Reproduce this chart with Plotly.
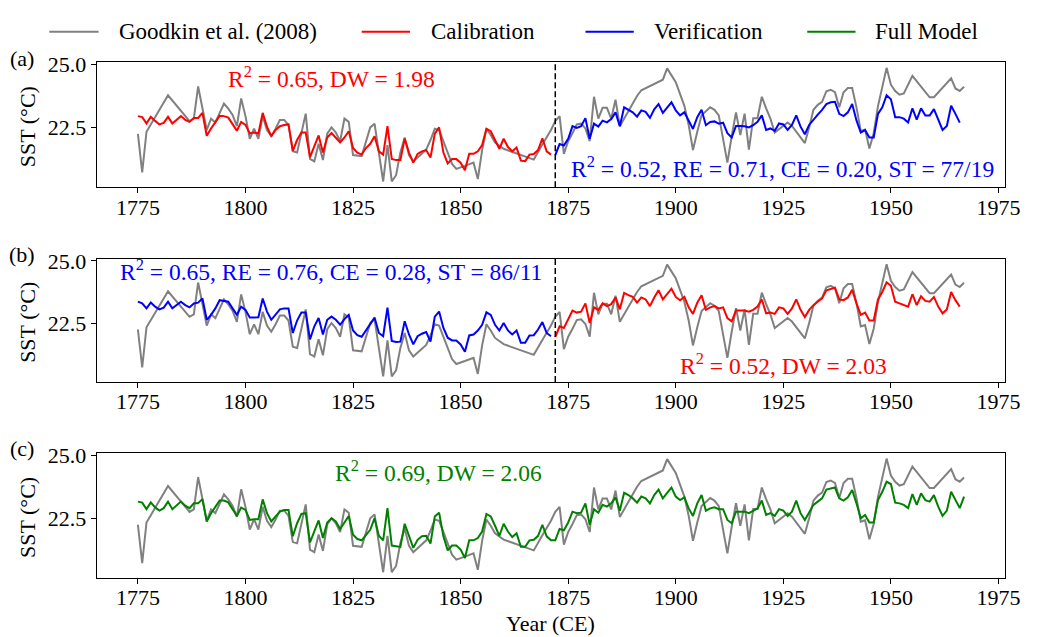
import plotly.graph_objects as go

W, H = 1045, 637
FONT = "Liberation Serif, Times New Roman, serif"

# ---- Goodkin et al. (2008) SST record (years with values) ----
goodkin_years = [
    1775, 1776, 1777, 1782, 1787, 1788, 1789, 1791, 1792, 1793, 1795, 1796, 1797, 1798, 1799,
    1800, 1801, 1802, 1803, 1804, 1805, 1806, 1807, 1808, 1809, 1810, 1811, 1812, 1814, 1815,
    1816, 1817, 1818, 1819, 1820, 1821, 1822, 1823, 1824, 1825, 1827, 1828, 1829, 1830, 1832,
    1833, 1834, 1835, 1836, 1837, 1838, 1839, 1840, 1841, 1842, 1843, 1844, 1845, 1846, 1847,
    1848, 1849, 1850, 1851, 1853, 1854, 1855, 1856, 1857, 1858, 1860, 1867, 1869, 1871, 1872,
    1873, 1874, 1875, 1876, 1877, 1878, 1879, 1880, 1881, 1882, 1883, 1884, 1885, 1886, 1887,
    1891, 1892, 1897, 1898, 1900, 1902, 1903, 1904, 1905, 1906, 1908, 1909, 1910, 1911, 1912,
    1913, 1914, 1915, 1916, 1917, 1918, 1919, 1920, 1921, 1922, 1923, 1926, 1927, 1930, 1931,
    1932, 1933, 1934, 1935, 1936, 1937, 1938, 1939, 1940, 1941, 1942, 1943, 1944, 1945, 1946,
    1947, 1949, 1950, 1951, 1952, 1953, 1955, 1959, 1960, 1964, 1965, 1966, 1967,
]
goodkin_sst = [
    22.24, 20.71, 22.33, 23.78, 22.75, 22.85, 24.13, 22.40, 22.85, 22.70, 23.45, 23.25, 23.00, 22.55, 23.65,
    22.95, 22.05, 22.45, 22.05, 22.95, 22.40, 22.15, 22.45, 22.80, 22.80, 22.60, 21.55, 21.50, 23.05, 21.25,
    21.15, 21.85, 21.20, 22.25, 22.50, 22.30, 21.95, 22.85, 22.72, 21.40, 21.36, 21.90, 22.50, 22.65, 20.35,
    21.80, 20.35, 20.60, 21.50, 22.10, 21.40, 21.15, 21.30, 21.45, 21.62, 22.00, 22.45, 22.40, 21.95, 21.43,
    21.05, 20.85, 20.90, 20.97, 21.10, 20.45, 21.60, 22.45, 22.20, 21.90, 21.65, 21.22, 21.82, 22.40, 22.75,
    22.95, 21.45, 21.95, 22.27, 22.62, 22.65, 22.46, 21.95, 23.72, 22.85, 23.28, 23.28, 22.85, 23.60, 22.55,
    23.75, 23.98, 24.40, 24.85, 24.30, 23.36, 22.60, 21.60, 22.33, 22.98, 23.30, 23.20, 22.98, 21.95, 21.10,
    22.15, 23.10, 22.20, 23.05, 21.62, 22.87, 22.87, 23.72, 23.26, 22.85, 22.30, 22.70, 22.56, 21.88, 22.50,
    23.20, 23.40, 23.52, 23.94, 24.00, 23.90, 23.30, 23.90, 24.07, 24.07, 23.30, 22.36, 22.42, 21.66, 22.27,
    23.35, 24.87, 24.20, 23.95, 23.80, 23.85, 24.55, 23.70, 23.70, 24.45, 24.05, 23.95, 24.12,
]

# ---- model periods ----
early_years = list(range(1775, 1872))   # 1775-1871
late_years = list(range(1872, 1967))    # 1872-1966
full_years = list(range(1775, 1968))    # 1775-1967
split_year = 1872

# (a) calibration on the early period, verification on the late period
calib_a = [
    22.95, 22.91, 22.66, 22.92, 22.76, 22.62, 22.68, 22.92, 22.66, 22.82,
    22.95, 22.80, 22.72, 22.88, 22.88, 23.08, 22.17, 22.46, 22.72, 22.96,
    22.95, 22.89, 22.63, 22.37, 22.72, 22.60, 22.26, 22.30, 22.26, 23.08,
    22.53, 22.15, 22.40, 22.55, 22.60, 22.62, 21.57, 22.00, 22.30, 22.30,
    21.32, 21.75, 22.18, 21.50, 22.10, 22.28, 22.10, 21.90, 22.10, 22.35,
    21.68, 21.50, 21.42, 21.68, 21.85, 22.15, 21.55, 21.42, 22.55, 21.25,
    21.20, 21.20, 22.05, 21.50, 21.10, 21.45, 21.55, 21.60, 21.30, 22.25,
    22.50, 21.50, 21.07, 21.24, 21.24, 21.10, 20.80, 21.45, 21.45, 21.55,
    21.80, 22.45, 22.35, 22.00, 21.65, 22.05, 21.72, 21.55, 21.70, 21.18,
    21.16, 21.42, 21.44, 21.60, 22.07, 21.55, 21.42,
]
verif_a = [
    21.40, 21.84, 21.78, 22.05, 22.55, 22.48, 22.55, 22.87, 22.05, 22.65,
    22.53, 22.77, 22.70, 22.83, 23.10, 22.55, 23.30, 23.20, 23.10, 22.93,
    23.18, 23.12, 22.88, 23.22, 23.43, 23.08, 23.30, 23.50, 23.18, 22.98,
    23.10, 22.78, 22.44, 22.91, 23.20, 22.59, 22.72, 22.74, 22.65, 22.69,
    22.27, 22.10, 22.56, 22.56, 22.55, 22.50, 22.59, 22.72, 22.98, 22.40,
    22.46, 22.36, 22.66, 22.62, 22.40, 22.60, 22.98, 22.53, 22.23, 22.60,
    22.83, 23.01, 23.20, 23.43, 23.50, 23.52, 23.04, 22.95, 23.10, 23.43,
    22.78, 22.30, 22.39, 22.10, 22.10, 23.04, 23.30, 23.78, 23.62, 22.91,
    22.91, 22.85, 22.70, 23.26, 22.81, 23.26, 22.97, 22.97, 23.23, 22.78,
    22.40, 22.56, 23.36, 23.04, 22.69,
]

# (b) verification on the early period, calibration on the late period
verif_b = [
    23.36, 23.29, 23.09, 23.33, 23.16, 23.05, 23.12, 23.36, 23.09, 23.22,
    23.36, 23.22, 23.13, 23.29, 23.32, 23.49, 22.63, 22.83, 23.09, 23.42,
    23.39, 23.36, 23.09, 22.83, 23.16, 23.03, 22.72, 22.72, 22.73, 23.49,
    22.96, 22.63, 22.86, 23.05, 23.09, 23.09, 22.10, 22.60, 22.92, 22.92,
    21.84, 22.37, 22.70, 22.04, 22.63, 22.76, 22.63, 22.43, 22.66, 22.83,
    22.20, 22.01, 21.95, 22.20, 22.43, 22.72, 22.10, 21.97, 23.12, 21.78,
    21.74, 21.75, 22.57, 22.04, 21.64, 21.97, 22.07, 22.14, 21.75, 22.76,
    22.96, 22.30, 21.91, 21.80, 21.80, 21.64, 21.34, 22.00, 22.04, 22.20,
    22.43, 22.93, 22.83, 22.43, 22.20, 22.50, 22.20, 22.04, 22.20, 21.71,
    21.71, 22.00, 22.01, 22.24, 22.54, 22.10, 21.97,
]
calib_b = [
    21.93, 22.37, 22.30, 22.63, 23.00, 22.92, 22.96, 23.29, 22.50, 23.13,
    23.03, 23.29, 23.18, 23.26, 23.53, 23.05, 23.71, 23.62, 23.55, 23.32,
    23.53, 23.45, 23.18, 23.53, 23.82, 23.45, 23.66, 23.88, 23.55, 23.42,
    23.55, 23.13, 22.87, 23.32, 23.62, 23.03, 23.13, 23.18, 23.09, 23.13,
    22.70, 22.57, 23.00, 23.00, 23.00, 22.96, 23.03, 23.16, 23.45, 22.89,
    22.92, 22.87, 23.13, 23.09, 22.87, 23.09, 23.45, 23.03, 22.74, 23.03,
    23.22, 23.36, 23.49, 23.82, 23.88, 23.92, 23.45, 23.42, 23.53, 23.84,
    23.29, 22.83, 22.92, 22.60, 22.60, 23.45, 23.75, 24.14, 24.00, 23.36,
    23.29, 23.22, 23.16, 23.66, 23.22, 23.58, 23.39, 23.36, 23.55, 23.16,
    22.89, 23.05, 23.75, 23.42, 23.16,
]

# (c) full model over the whole record
full_model = [
    23.16, 23.12, 22.86, 23.13, 22.93, 22.80, 22.90, 23.16, 22.86, 23.03,
    23.16, 23.00, 22.90, 23.09, 23.09, 23.26, 22.37, 22.70, 22.96, 23.20,
    23.20, 23.13, 22.86, 22.59, 22.92, 22.83, 22.43, 22.46, 22.46, 23.25,
    22.70, 22.37, 22.57, 22.76, 22.83, 22.83, 21.78, 22.30, 22.67, 22.70,
    21.54, 21.97, 22.41, 21.71, 22.33, 22.50, 22.37, 22.07, 22.33, 22.59,
    21.84, 21.67, 21.62, 21.84, 22.04, 22.50, 21.80, 21.62, 22.90, 21.41,
    21.38, 21.36, 22.28, 21.78, 21.32, 21.64, 21.78, 21.80, 21.49, 22.57,
    22.72, 21.78, 21.22, 21.41, 21.41, 21.25, 20.92, 21.62, 21.62, 21.71,
    21.97, 22.67, 22.57, 22.20, 21.80, 22.28, 21.97, 21.75, 21.90, 21.36,
    21.36, 21.62, 21.64, 21.80, 22.24, 21.78, 21.62, 21.62, 22.07, 22.02,
    22.33, 22.76, 22.70, 22.72, 23.09, 22.24, 22.86, 22.72, 23.03, 22.96,
    23.09, 23.33, 22.80, 23.51, 23.42, 23.29, 23.12, 23.36, 23.29, 23.09,
    23.42, 23.64, 23.29, 23.51, 23.72, 23.36, 23.22, 23.33, 22.89, 22.59,
    23.09, 23.42, 22.80, 22.89, 22.93, 22.86, 22.86, 22.43, 22.30, 22.76,
    22.76, 22.76, 22.70, 22.80, 22.89, 23.20, 22.63, 22.70, 22.59, 22.86,
    22.80, 22.59, 22.76, 23.20, 22.70, 22.43, 22.72, 23.03, 23.16, 23.29,
    23.64, 23.68, 23.72, 23.29, 23.20, 23.33, 23.62, 23.09, 22.50, 22.63,
    22.33, 22.33, 23.22, 23.55, 23.95, 23.86, 23.12, 23.09, 23.03, 22.90,
    23.46, 23.03, 23.49, 23.22, 23.16, 23.42, 22.96, 22.59, 22.80, 23.55,
    23.20, 22.90, 23.36,
]

# ---- statistics text ----
stats_a_calib = "R<sup>2</sup> = 0.65, DW = 1.98"
stats_a_verif = "R<sup>2</sup> = 0.52, RE = 0.71, CE = 0.20, ST = 77/19"
stats_b_verif = "R<sup>2</sup> = 0.65, RE = 0.76, CE = 0.28, ST = 86/11"
stats_b_calib = "R<sup>2</sup> = 0.52, DW = 2.03"
stats_c_full = "R<sup>2</sup> = 0.69, DW = 2.06"

x_ticks = [1775, 1800, 1825, 1850, 1875, 1900, 1925, 1950, 1975]
y_ticks = [22.5, 25.0]

GRAY, RED, BLUE, GREEN = "#808080", "#ff0000", "#0000ff", "#008000"


def px_x(p):
    return p / W


def px_y(p):
    return 1 - p / H


# axis limits with 5 % padding around all plotted data
all_x = goodkin_years + full_years
all_y = goodkin_sst + calib_a + verif_a + verif_b + calib_b + full_model
xpad = 0.05 * (max(all_x) - min(all_x))
ypad = 0.05 * (max(all_y) - min(all_y))
x_range = [min(all_x) - xpad, max(all_x) + xpad]
y_range = [min(all_y) - ypad, max(all_y) + ypad]

# panel rectangles in pixels (top, bottom)
panels = [(53, 180), (252.5, 378), (450, 577)]
x_left, x_right = 98, 1020

fig = go.Figure()

series = [
    [(goodkin_years, goodkin_sst, GRAY, "Goodkin et al. (2008)"),
     (early_years, calib_a, RED, "Calibration"),
     (late_years, verif_a, BLUE, "Verification")],
    [(goodkin_years, goodkin_sst, GRAY, "Goodkin et al. (2008)"),
     (early_years, verif_b, BLUE, "Verification"),
     (late_years, calib_b, RED, "Calibration")],
    [(goodkin_years, goodkin_sst, GRAY, "Goodkin et al. (2008)"),
     (full_years, full_model, GREEN, "Full Model")],
]

for i, panel in enumerate(series):
    sfx = "" if i == 0 else str(i + 1)
    for xs, ys, col, name in panel:
        fig.add_trace(go.Scatter(
            x=xs, y=ys, mode="lines", name=name, showlegend=False,
            line=dict(color=col, width=2),
            xaxis="x" + sfx, yaxis="y" + sfx,
        ))

axis_common = dict(
    showline=True, mirror=True, linecolor="black", linewidth=1,
    ticks="outside", ticklen=5, tickwidth=1, tickcolor="black",
    showgrid=False, zeroline=False,
    tickfont=dict(family=FONT, size=22, color="black"),
)

layout = dict(
    width=W, height=H,
    margin=dict(l=0, r=0, t=0, b=0),
    paper_bgcolor="white", plot_bgcolor="white",
    font=dict(family=FONT, size=22, color="black"),
    showlegend=False,
)
for i, (top, bot) in enumerate(panels):
    sfx = "" if i == 0 else str(i + 1)
    layout["xaxis" + sfx] = dict(
        axis_common, domain=[px_x(x_left), px_x(x_right)], range=x_range,
        tickvals=x_ticks, anchor="y" + sfx, ticklabelstandoff=-5,
    )
    layout["yaxis" + sfx] = dict(
        axis_common, domain=[px_y(bot), px_y(top)], range=y_range,
        tickvals=y_ticks, tickformat=".1f", anchor="x" + sfx,
    )
fig.update_layout(**layout)

# split between calibration and verification periods
for sfx in ["", "2"]:
    fig.add_shape(type="line", xref="x" + sfx, yref="y" + sfx + " domain",
                  x0=split_year, x1=split_year, y0=0, y1=1,
                  line=dict(color="black", width=1.5, dash="6px,3px"))

annotations = []
# panel letters and y titles
for letter, (top, bot) in zip(["(a)", "(b)", "(c)"], panels):
    annotations.append(dict(text=letter, x=px_x(22), y=px_y(top - 4), xref="paper", yref="paper",
                            xanchor="center", yanchor="middle", showarrow=False,
                            font=dict(family=FONT, size=22, color="black")))
    annotations.append(dict(text="SST (°C)", x=px_x(28), y=px_y((top + bot) / 2 + 2),
                            xref="paper", yref="paper", textangle=-90,
                            xanchor="center", yanchor="middle", showarrow=False,
                            font=dict(family=FONT, size=22, color="black")))

annotations.append(dict(text="Year (CE)", x=px_x((x_left + x_right) / 2), y=px_y(623),
                        xref="paper", yref="paper", xanchor="center", yanchor="middle",
                        showarrow=False, font=dict(family=FONT, size=22, color="black")))

# statistics
for txt, cx, cy, col in [
    (stats_a_calib, 336, 68, RED),
    (stats_a_verif, 794, 160, BLUE),
    (stats_b_verif, 336, 264, BLUE),
    (stats_b_calib, 795, 360, RED),
    (stats_c_full, 445, 468, GREEN),
]:
    annotations.append(dict(text=txt, x=px_x(cx), y=px_y(cy), xref="paper", yref="paper",
                            xanchor="center", yanchor="middle", showarrow=False,
                            font=dict(family=FONT, size=23.5, color=col)))

# legend row
legend_items = [("Goodkin et al. (2008)", GRAY, 50, 100, 119),
                ("Calibration", RED, 367, 416, 435),
                ("Verification", BLUE, 594, 643, 662),
                ("Full Model", GREEN, 819, 868, 886)]
for name, col, l0, l1, tx in legend_items:
    fig.add_shape(type="line", xref="paper", yref="paper",
                  x0=px_x(l0), x1=px_x(l1), y0=px_y(22), y1=px_y(22),
                  line=dict(color=col, width=2))
    annotations.append(dict(text=name, x=px_x(tx), y=px_y(22), xref="paper", yref="paper",
                            xanchor="left", yanchor="middle", showarrow=False,
                            font=dict(family=FONT, size=23, color="black")))

fig.update_layout(annotations=annotations)
fig.write_html("out.html")
